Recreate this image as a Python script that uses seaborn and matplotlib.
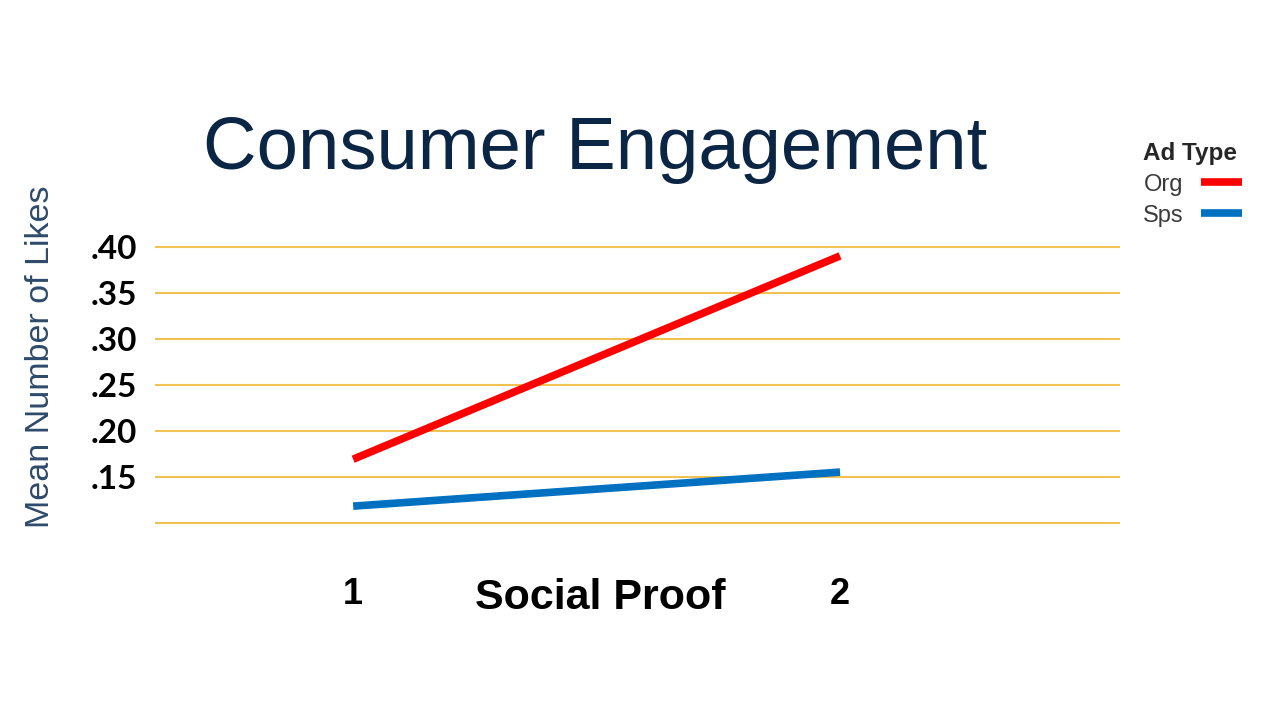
import matplotlib
matplotlib.use("Agg")
import matplotlib.pyplot as plt
import seaborn as sns
import pandas as pd

# ---- data ----
social_proof = [1, 2]
org_values = [0.169, 0.390]
sps_values = [0.118, 0.155]
ad_types = ["Org", "Sps"]
y_ticks = [0.10, 0.15, 0.20, 0.25, 0.30, 0.35, 0.40]
y_tick_labels = ["", ".15", ".20", ".25", ".30", ".35", ".40"]
x_tick_labels = ["1", "2"]

df = pd.DataFrame({
    "Social Proof": social_proof * 2,
    "Mean": org_values + sps_values,
    "Ad Type": [ad_types[0]] * 2 + [ad_types[1]] * 2,
})

sns.set_theme(style="white")
plt.rcParams["font.family"] = ["Liberation Sans", "DejaVu Sans"]

W, H = 1280, 720
fig = plt.figure(figsize=(W / 100, H / 100), dpi=100)

# axes geometry (pixels)
ax_left, ax_right = 155, 1120
ax_top, ax_bot = 242.1, 527.3
ax = fig.add_axes([ax_left / W, 1 - ax_bot / H, (ax_right - ax_left) / W, (ax_bot - ax_top) / H])

palette = {"Org": "#FF0000", "Sps": "#0070C0"}
sns.lineplot(data=df, x="Social Proof", y="Mean", hue="Ad Type", palette=palette,
             linewidth=5.5, ax=ax, legend=True, solid_capstyle="butt")

ax.set_xlim(0.593, 2.575)
ax.set_ylim(0.095, 0.405)

for yv in y_ticks:
    ax.axhline(yv, color="#F2C250", linewidth=1.5, zorder=0)

for s in ax.spines.values():
    s.set_visible(False)

ax.set_yticks(y_ticks)
ax.set_yticklabels(y_tick_labels, fontsize=24, fontweight="bold", family=["Lato", "DejaVu Sans"], color="black")
ax.tick_params(axis="y", length=0, pad=13)

ax.set_xticks(social_proof)
ax.set_xticklabels(x_tick_labels, fontsize=26, fontweight="bold", color="black")
ax.tick_params(axis="x", length=0, pad=36)

ax.set_xlabel("Social Proof", fontsize=31, fontweight="bold", color="black")
ax.xaxis.label.set_va("center")
ax.xaxis.set_label_coords((600 - ax_left) / (ax_right - ax_left), (ax_bot - 598) / (ax_bot - ax_top))

ax.set_ylabel("Mean Number of Likes", fontsize=24.5, color="#2E4A6B")
ax.yaxis.label.set_va("center")
ax.yaxis.set_label_coords((41 - ax_left) / (ax_right - ax_left), (ax_bot - 357) / (ax_bot - ax_top))

fig.text(595 / W, 1 - 169 / H, "Consumer Engagement", fontsize=53.5, color="#0B2545",
         ha="center", va="baseline")

handles, labels = ax.get_legend_handles_labels()
for h in handles:
    h.set_linewidth(5.5)
leg = ax.legend(handles, labels, title="Ad Type", loc="upper left",
                bbox_to_anchor=(1138 / W, 1 - 137 / H), bbox_transform=fig.transFigure,
                frameon=False, markerfirst=False, fontsize=17, title_fontsize=17.5,
                handlelength=1.74, handletextpad=0.75, labelspacing=0.38,
                alignment="left", borderaxespad=0, borderpad=0.2)
leg.get_title().set_fontweight("bold")
for t in leg.get_texts():
    t.set_color("#3A3A3A")

fig.savefig("out.png", dpi=100, facecolor="white")
